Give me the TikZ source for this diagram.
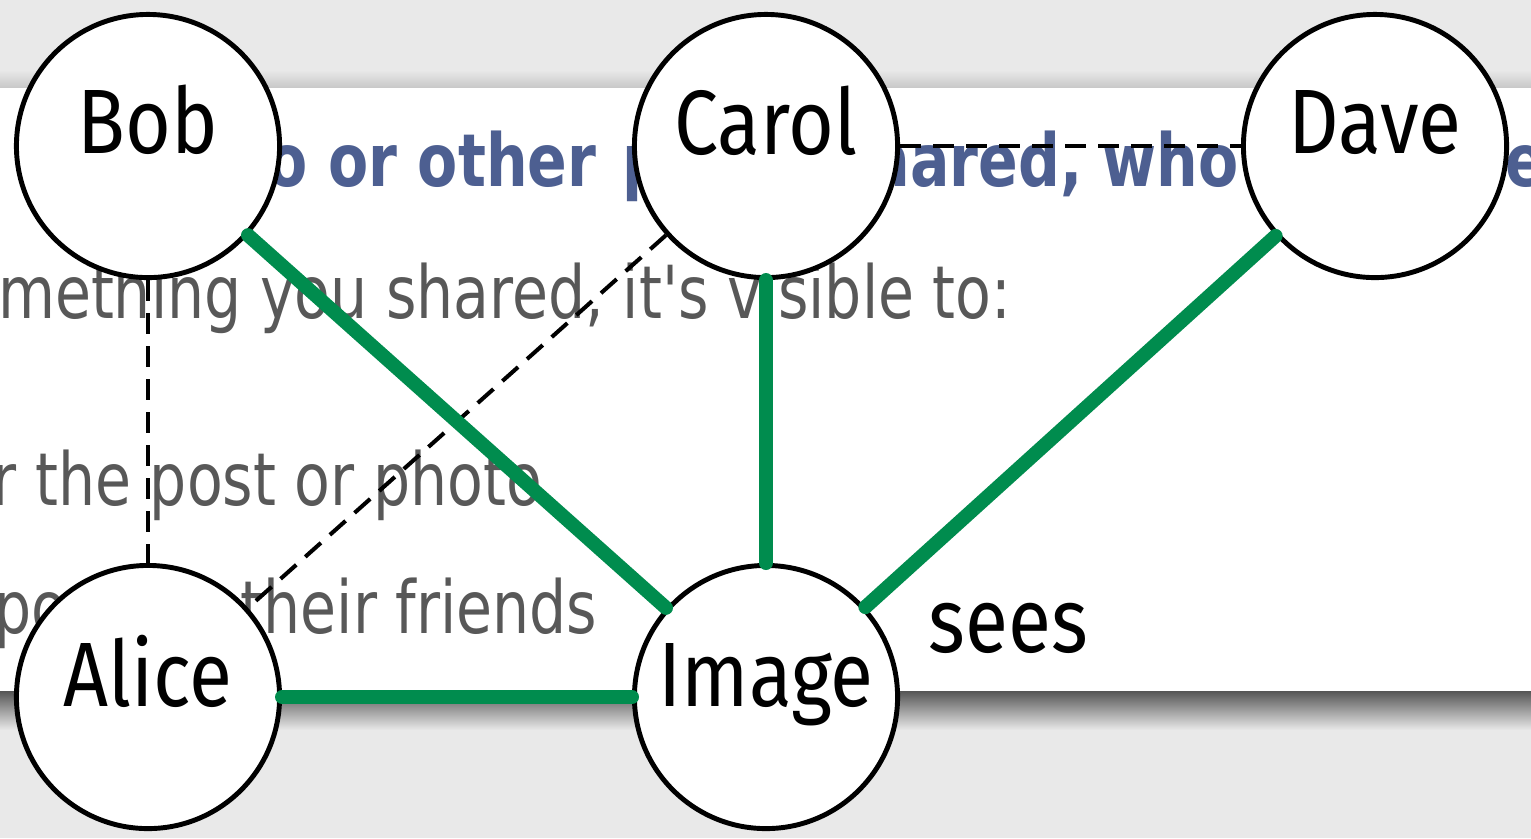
\documentclass[tikz,border=0pt]{standalone}
\usepackage{fontspec}
\setmainfont{Fira Sans}[FakeStretch=0.86]
\newfontfamily\bgfont{DejaVu Sans}[FakeStretch=0.8]
\definecolor{bggray}{HTML}{E9E9E9}
\definecolor{edgegreen}{HTML}{008C4E}
\definecolor{fbblue}{HTML}{3E5288}
\definecolor{fbgray}{HTML}{4A4A4A}
\tikzset{
  person/.style={circle, draw=black, line width=1.4pt, fill=white, minimum size=2.63cm, inner sep=0pt},
  lbl/.style={font=\fontsize{26}{30}\selectfont, inner sep=0pt, anchor=base},
  sees/.style={line width=4pt, draw=edgegreen, line cap=round},
  friend/.style={line width=1.15pt, draw=black, dash pattern=on 0.21cm off 0.12cm},
  bgtxt/.style={font=\bgfont\fontsize{20.8}{24}\selectfont, text=fbgray, inner sep=0pt, opacity=0.92},
  bgtitle/.style={font=\bgfont\bfseries\fontsize{20.8}{24}\selectfont, text=fbblue, inner sep=0pt, opacity=0.92}
}
\begin{document}
\begin{tikzpicture}[x=0.01cm, y=-0.01cm]
\useasboundingbox (0,0) rectangle (1531,838);
\clip (0,0) rectangle (1531,838);
% background screenshot
\fill[bggray] (0,0) rectangle (1531,838);
\shade[top color=bggray, bottom color=black!22] (0,70) rectangle (1531,88);
\shade[top color=black!68, bottom color=bggray] (0,690) rectangle (1531,730);
\fill[white] (0,88) rectangle (1531,691);
% blurred screenshot text
\node[bgtitle, anchor=base east] (t1) at (597,186) {o or other};
\node[bgtitle, anchor=base west] (t2) at (622,186) {p};
\node[bgtitle, anchor=base west] (t3) at (868,186) {hared, who};
\node[bgtitle, anchor=base west] (t4) at (1470,186) {se};
\node[bgtxt, anchor=base east] (t5) at (1012,318) {mething you shared, it's visible to:};
\node[bgtxt, anchor=base west] (t6) at (-8,505) {r the post or photo};
\node[bgtxt, anchor=base west] (t7) at (-6,633) {po};
\node[bgtxt, anchor=base east] (t8) at (598,633) {their friends};
% people
\node[person] (bob) at (148,146) {};
\node[person] (carol) at (766,146) {};
\node[person] (dave) at (1375,146) {};
\node[person] (alice) at (148,697) {};
\node[person] (image) at (766,697) {};
% friendships
\draw[friend] (bob) -- (alice);
\draw[friend] (carol) -- (alice);
\draw[friend] (carol) -- (dave);
% who sees the image
\draw[sees] (bob) -- (image);
\draw[sees] (carol) -- (image);
\draw[sees] (dave) -- (image);
\draw[sees] (alice) -- (image);
% labels
\node[lbl] (bobl) at ([yshift=-0.07cm]bob.center) {Bob};
\node[lbl] (caroll) at ([yshift=-0.08cm]carol.center) {Carol};
\node[lbl] (davel) at ([yshift=-0.07cm]dave.center) {Dave};
\node[lbl] (alicel) at ([yshift=-0.09cm]alice.center) {Alice};
\node[lbl] (imagel) at ([yshift=-0.09cm]image.center) {Image};
\node[lbl, anchor=base west] (seesl) at (928,652) {sees};
\end{tikzpicture}
\end{document}
